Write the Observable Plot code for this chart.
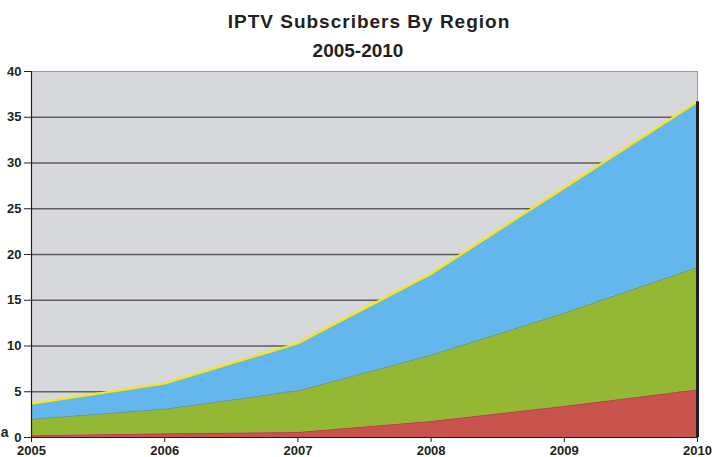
<!DOCTYPE html>
<html><head><meta charset="utf-8">
<script src="https://cdn.jsdelivr.net/npm/d3@7"></script>
<script src="https://cdn.jsdelivr.net/npm/@observablehq/plot@0.6"></script>
<style>
body{margin:0;background:#fff;font-family:"Liberation Sans",Arial,sans-serif;}
#wrap{position:relative;width:714px;height:457px;overflow:hidden}
.t{position:absolute;font-weight:bold;color:#231f20;white-space:nowrap;transform:translateX(-50%);line-height:1}
</style></head><body>
<div id="wrap">
<div class="t" style="left:369px;top:12px;font-size:19px;letter-spacing:1px">IPTV Subscribers By Region</div>
<div class="t" style="left:358px;top:41px;font-size:19px">2005-2010</div>
</div>
<script>
const years = [2005, 2006, 2007, 2008, 2009, 2010];
const seriesNames = ["Region A", "Region B", "Region C"];
const regionA = [0.2, 0.4, 0.55, 1.75, 3.4, 5.2];
const regionB = [1.8, 2.7, 4.55, 7.25, 10.2, 13.4];
const regionC = [1.7, 2.8, 5.2, 8.9, 13.7, 18.1];
const yTicks = [0, 5, 10, 15, 20, 25, 30, 35, 40];
const gridValues = [5, 10, 15, 20, 25, 30, 35];
const legendFragment = ["a"];
const colors = ["#C8534D", "#94B834", "#63B7EC"];

const seriesValues = [regionA, regionB, regionC];
const rows = [];
seriesNames.forEach((s, k) => years.forEach((yr, i) => rows.push({year: yr, series: s, value: seriesValues[k][i]})));
const idx = years.map((_, i) => i);
const midTop = idx.map(i => regionA[i] + regionB[i]);
const totals = idx.map(i => regionA[i] + regionB[i] + regionC[i]);
const last = years.length - 1;

const chart = Plot.plot({
  width: 714, height: 457,
  marginLeft: 31, marginRight: 17, marginTop: 71, marginBottom: 20,
  style: {fontFamily: "'Liberation Sans', Arial, sans-serif", fontSize: "12.5px", fontWeight: "bold", color: "#231f20", background: "transparent", overflow: "visible"},
  x: {type: "linear", domain: [years[0], years[last]]},
  y: {domain: [0, 40]},
  color: {domain: seriesNames, range: colors},
  marks: [
    Plot.frame({fill: "#D7D8DC", stroke: "#9a9a9a"}),
    Plot.ruleY(gridValues, {stroke: "#5e5e5e", strokeWidth: 1.5}),
    Plot.areaY(rows, {x: "year", y: "value", z: "series", fill: "series", order: seriesNames}),
    Plot.lineY(idx, {x: i => years[i], y: i => regionA[i], stroke: "#a8443f", strokeWidth: 0.8}),
    Plot.lineY(idx, {x: i => years[i], y: i => midTop[i], stroke: "#5f96b4", strokeWidth: 1}),
    Plot.lineY(idx, {x: i => years[i], y: i => totals[i], stroke: "#FFE800", strokeWidth: 2.2}),
    Plot.ruleX([last], {x: i => years[i], y1: 0, y2: i => totals[i], stroke: "#231f20", strokeWidth: 3}),
    Plot.ruleX([years[0]], {stroke: "#231f20", strokeWidth: 1.2}),
    Plot.ruleY([0], {stroke: "#231f20", strokeWidth: 1.2}),
    Plot.axisY({ticks: yTicks, tickSize: 7, tickPadding: 3, label: null, tickFormat: d => String(d), fontSize: 13}),
    Plot.axisX({ticks: years, tickSize: 5, tickPadding: 3, label: null, tickFormat: d => String(d), fontSize: 13}),
    Plot.text(legendFragment, {x: years[0], y: 0, frameAnchor: "left", dx: -23, dy: -5, textAnchor: "end", fontSize: 14})
  ]
});
document.getElementById("wrap").appendChild(chart);
chart.style.position = "absolute";
chart.style.left = "0";
chart.style.top = "0";
</script>
</body></html>
